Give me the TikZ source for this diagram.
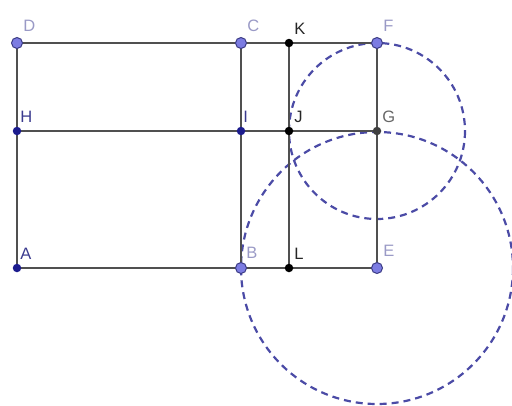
\documentclass[tikz,border=0pt]{standalone}
\usepackage{fontspec}
\setmainfont{Liberation Sans}
\usetikzlibrary{positioning}
\definecolor{seg}{HTML}{505050}
\definecolor{circ}{HTML}{4B4BA6}
\definecolor{ptlight}{HTML}{7C7CE2}
\definecolor{ptdark}{HTML}{1C1C8E}
\definecolor{lbllight}{HTML}{9A9AC6}
\definecolor{lbldark}{HTML}{3A3A8E}
\tikzset{
  seg/.style={draw=seg, line width=2.5pt},
  circ/.style={draw=circ, line width=2.2pt, dash pattern=on 7pt off 5pt},
  ptfree/.style={circle, inner sep=0pt, minimum size=11pt, fill=ptlight, draw=circ!80!black, line width=1pt},
  ptmid/.style={circle, inner sep=0pt, minimum size=8.5pt, fill=ptdark},
  ptcut/.style={circle, inner sep=0pt, minimum size=8.5pt, fill=black},
  lbl/.style={font=\fontsize{16.5pt}{16.5pt}\selectfont, inner sep=1pt}
}
\begin{document}
\begin{tikzpicture}[x=1pt, y=-1pt]
  \useasboundingbox (0,0) rectangle (512,405);
  % points
  \coordinate (D) at (17,43);  \coordinate (C) at (241,43);  \coordinate (K) at (289,43);  \coordinate (F) at (377,43);
  \coordinate (H) at (17,131); \coordinate (I) at (241,131); \coordinate (J) at (289,131); \coordinate (G) at (377,131);
  \coordinate (A) at (17,268); \coordinate (B) at (241,268); \coordinate (L) at (289,268); \coordinate (E) at (377,268);
  % circles
  \draw[circ] (G) circle (88);
  \draw[circ] (E) circle (136);
  % segments
  \draw[seg] (D) -- (F);
  \draw[seg] (H) -- (G);
  \draw[seg] (A) -- (E);
  \draw[seg] (D) -- (A);
  \draw[seg] (C) -- (B);
  \draw[seg] (K) -- (L);
  \draw[seg] (F) -- (E);
  % dots
  \foreach \p in {D,C,F,B,E} \node[ptfree] (n\p) at (\p) {};
  \foreach \p in {H,I,A} \node[ptmid] (n\p) at (\p) {};
  \foreach \p in {K,J,L} \node[ptcut] (n\p) at (\p) {};
  \node[ptcut, fill=seg!80!black] (nG) at (G) {};
  % labels
  \foreach \p in {D,C,F,E} \node[lbl, lbllight, above right=6pt and 1pt of n\p] {\p};
  \node[lbl, lbllight, above right=4pt and 0pt of nB] {B};
  \foreach \p in {H,A} \node[lbl, lbldark, above right=4pt and -1pt of n\p] {\p};
  \node[lbl, lbldark, above right=4pt and -2pt of nI] {I};
  \foreach \p in {K,J,L} \node[lbl, black!85, above right=4pt and 1pt of n\p] {\p};
  \node[lbl, black!60, above right=4pt and 1pt of nG] {G};
\end{tikzpicture}
\end{document}
